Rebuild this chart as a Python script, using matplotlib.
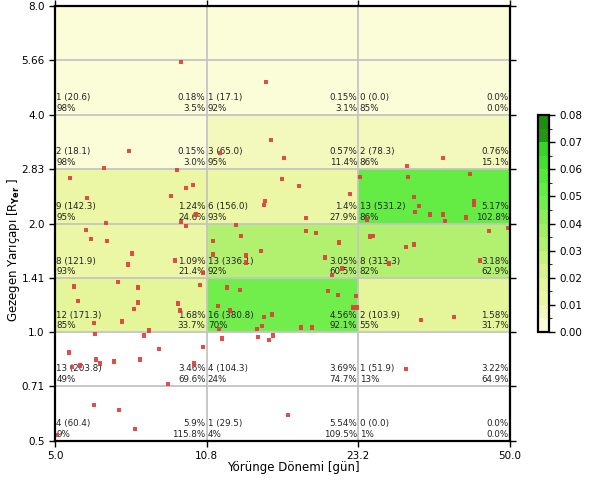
import numpy as np
import matplotlib
matplotlib.use("Agg")
import matplotlib.pyplot as plt
from matplotlib.colors import ListedColormap, BoundaryNorm

# ---------------- data ----------------
period_edges = [5.0, 10.77, 23.21, 50.0]
period_ticklabels = ["5.0", "10.8", "23.2", "50.0"]
radius_edges = [0.5, 0.71, 1.0, 1.41, 2.0, 2.83, 4.0, 5.66, 8.0]
radius_ticklabels = ["0.5", "0.71", "1.0", "1.41", "2.0", "2.83", "4.0", "5.66", "8.0"]

# planet candidates (period [day], radius [R_earth])
planet_period = [9.46, 14.55, 14.92, 15.93, 7.27, 11.53, 6.41, 9.27, 35.62, 29.69,
                 5.40, 5.88, 9.00, 9.70, 10.05, 10.21, 9.46, 9.70, 6.47, 5.85,
                 6.00, 6.50, 7.38, 7.24, 9.18, 10.57, 15.77, 17.19, 14.47, 14.40,
                 12.49, 12.81, 11.12, 14.18, 11.12, 13.14, 13.14, 5.51, 6.88, 7.61,
                 5.62, 7.61, 7.46, 9.32, 9.41, 10.42, 6.09, 7.02, 11.94, 12.75,
                 11.41, 12.12, 14.99, 14.40, 13.90, 14.25, 23.41, 29.84, 40.84, 22.25,
                 30.76, 31.55, 30.92, 33.35, 35.62, 35.98, 40.02, 41.67, 41.67, 24.25,
                 17.81, 17.81, 18.73, 21.04, 24.62, 25.00, 29.54, 30.76, 44.96, 49.50,
                 19.61, 21.37, 20.31, 27.11, 42.96, 19.91, 20.94, 22.94, 22.59, 23.05,
                 31.87, 37.67, 17.36, 18.36, 6.12, 7.85, 8.05, 5.37, 5.45, 5.67,
                 6.15, 6.28, 6.74, 7.69, 8.46, 10.11, 10.57, 8.86, 6.09, 6.91,
                 7.50, 5.05, 11.47, 11.64, 13.97, 14.77, 15.07, 16.26, 29.54]
planet_radius = [5.60, 4.93, 3.41, 3.04, 3.17, 3.13, 2.85, 2.81, 3.04, 2.89,
                 2.67, 2.35, 2.38, 2.51, 2.56, 2.12, 2.02, 1.97, 2.01, 1.92,
                 1.81, 1.79, 1.65, 1.54, 1.58, 1.46, 2.66, 2.54, 2.31, 2.25,
                 1.98, 1.85, 1.79, 1.68, 1.64, 1.63, 1.56, 1.34, 1.38, 1.33,
                 1.22, 1.21, 1.16, 1.20, 1.15, 1.35, 1.06, 1.07, 1.33, 1.31,
                 1.18, 1.15, 1.12, 1.10, 1.02, 1.04, 2.69, 2.69, 2.74, 2.41,
                 2.37, 2.24, 2.15, 2.12, 2.12, 2.03, 2.08, 2.31, 2.26, 2.05,
                 2.07, 1.91, 1.88, 1.77, 1.84, 1.85, 1.72, 1.75, 1.91, 1.94,
                 1.61, 1.50, 1.44, 1.55, 1.58, 1.30, 1.27, 1.26, 1.17, 1.17,
                 1.08, 1.10, 1.03, 1.03, 0.99, 0.98, 1.01, 0.88, 0.80, 0.81,
                 0.84, 0.82, 0.83, 0.84, 0.90, 0.82, 0.91, 0.72, 0.63, 0.61,
                 0.54, 0.52, 1.02, 0.96, 0.97, 0.95, 0.98, 0.59, 0.79]

# per-cell values, rows = radius bins (bottom -> top), columns = period bins
cell_count = [[4, 1, 0],
              [13, 4, 1],
              [12, 16, 2],
              [8, 13, 8],
              [9, 6, 13],
              [2, 3, 2],
              [1, 1, 0]]
cell_weight = [[60.4, 29.5, 0.0],
               [203.8, 104.3, 51.9],
               [171.3, 380.8, 103.9],
               [121.9, 336.1, 313.3],
               [142.3, 156.0, 531.2],
               [18.1, 65.0, 78.3],
               [20.6, 17.1, 0.0]]
cell_completeness = [[9, 4, 1],
                     [49, 24, 13],
                     [85, 70, 55],
                     [93, 92, 82],
                     [95, 93, 86],
                     [98, 95, 86],
                     [98, 92, 85]]
cell_rate = [[5.9, 5.54, 0.0],
             [3.46, 3.69, 3.22],
             [1.68, 4.56, 1.58],
             [1.09, 3.05, 3.18],
             [1.24, 1.4, 5.17],
             [0.15, 0.57, 0.76],
             [0.18, 0.15, 0.0],
             [0.0, 0.0, 0.0]]      # top row: shaded only
cell_rate_err = [[115.8, 109.5, 0.0],
                 [69.6, 74.7, 64.9],
                 [33.7, 92.1, 31.7],
                 [21.4, 60.5, 62.9],
                 [24.6, 27.9, 102.8],
                 [3.0, 11.4, 15.1],
                 [3.5, 3.1, 0.0]]
shade_min_radius = 1.0

cbar_ticks = [0.00, 0.01, 0.02, 0.03, 0.04, 0.05, 0.06, 0.07, 0.08]
cmap_colors = ["#fbfdd8", "#f3f9bd", "#ebf7a4", "#e5f59a", "#d6f38c", "#c6f27e",
               "#b2f070", "#a0ef66", "#8eee5c", "#72ee4c", "#64ec44", "#55e83c",
               "#44e030", "#38d428", "#249814", "#1f8e10"]

# ---------------- plot ----------------
plt.rcParams['font.family'] = ['DejaVu Sans']
fig = plt.figure(figsize=(6.0, 4.82), dpi=100)
ax = fig.add_axes([55/600, 1-441/482, 455/600, 435/482])

cmap = ListedColormap(cmap_colors)
norm = BoundaryNorm(np.linspace(0, 0.08, len(cmap_colors) + 1), cmap.N)

rate = np.array(cell_rate) / 100.0
redges = np.array(radius_edges)
mask = np.zeros_like(rate, dtype=bool)
mask[redges[:-1] < shade_min_radius - 1e-9, :] = True
rate_m = np.ma.array(rate, mask=mask)
mesh = ax.pcolormesh(period_edges, radius_edges, rate_m, cmap=cmap, norm=norm,
                     shading='flat', zorder=1)

ax.set_xscale('log')
ax.set_yscale('log')
ax.set_xlim(period_edges[0], period_edges[-1])
ax.set_ylim(radius_edges[0], radius_edges[-1])
ax.set_xticks(period_edges)
ax.set_xticklabels(period_ticklabels)
ax.set_yticks(radius_edges)
ax.set_yticklabels(radius_ticklabels)
ax.minorticks_off()
ax.grid(True, color='#c4c4c4', linewidth=1.3, zorder=2)
ax.set_axisbelow(False)
ax.tick_params(axis='both', which='major', direction='out', length=4, width=1.0,
               labelsize=7.5, top=True, right=True, colors='black')
for s in ax.spines.values():
    s.set_linewidth(1.6)
    s.set_zorder(5)


def fmt_rate(v):
    s = "%.2f" % v
    if s.endswith("0"):
        s = s[:-1]
    return s + "%"

txt_kw = dict(fontsize=6.3, color='#222222', zorder=3, linespacing=1.25)
xoff = 1.006
for i in range(len(cell_count)):
    y0 = radius_edges[i] * 1.012
    for j in range(len(cell_count[i])):
        xl = period_edges[j] * xoff
        xr = period_edges[j + 1] / xoff
        ax.text(xl, y0, "%d (%.1f)\n%d%%" % (cell_count[i][j], cell_weight[i][j],
                                             cell_completeness[i][j]),
                ha='left', va='bottom', multialignment='left', **txt_kw)
        ax.text(xr, y0, "%s\n%.1f%%" % (fmt_rate(cell_rate[i][j]), cell_rate_err[i][j]),
                ha='right', va='bottom', multialignment='right', **txt_kw)

ax.scatter(planet_period, planet_radius, marker='s', s=10, color='#e03a3a',
           edgecolors='none', alpha=0.9, zorder=4, clip_on=False)

ax.set_xlabel("Yörünge Dönemi [gün]", fontsize=8.5)
ax.set_ylabel(r"Gezegen Yarıçapı [R$_{\mathbf{Yer}}$ ]", fontsize=8.5)
ax.xaxis.set_label_coords(0.523, -0.045)
ax.yaxis.set_label_coords(-0.072, 0.44)

cax = fig.add_axes([538/600, 1-332/482, 11/600, 217/482])
cb = fig.colorbar(mesh, cax=cax, ticks=cbar_ticks)
cb.ax.set_yticklabels(["%.2f" % t for t in cbar_ticks])
cb.ax.tick_params(labelsize=7.5, length=4, width=1.0)
cb.outline.set_linewidth(1.6)

fig.savefig("out.png", dpi=100)
